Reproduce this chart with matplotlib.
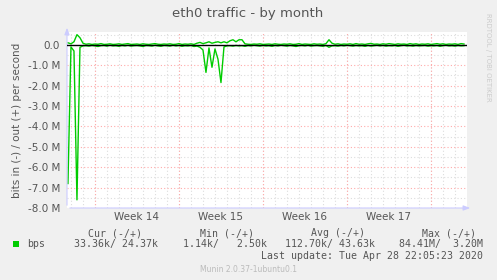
import numpy as np
import matplotlib.pyplot as plt

# days relative to Monday Mar 30 2020 (start of week 14), sampled every 6 hours
start_day = -2.25
step = 0.25

# bits in per second (M), drawn negative
in_mbps = [
    6.8, 0.1, 0.3, 7.6, 0.12, 0.05, 0.04, 0.06,
    0.03, 0.05, 0.08, 0.04, 0.03, 0.06, 0.02, 0.05,
    0.04, 0.07, 0.03, 0.05, 0.02, 0.06, 0.04, 0.03,
    0.05, 0.08, 0.03, 0.04, 0.06, 0.02, 0.05, 0.07,
    0.03, 0.04, 0.06, 0.02, 0.05, 0.03, 0.07, 0.04,
    0.05, 0.03, 0.08, 0.06, 0.12, 0.25, 1.35, 0.15,
    1.1, 0.2, 0.7, 1.85, 0.1, 0.05, 0.04, 0.06,
    0.03, 0.05, 0.04, 0.07, 0.03, 0.05, 0.02, 0.04,
    0.06, 0.03, 0.05, 0.04, 0.07, 0.03, 0.05, 0.02,
    0.04, 0.06, 0.03, 0.05, 0.08, 0.04, 0.03, 0.05,
    0.02, 0.06, 0.04, 0.03, 0.05, 0.07, 0.03, 0.12,
    0.05, 0.04, 0.06, 0.03, 0.05, 0.02, 0.04, 0.06,
    0.03, 0.05, 0.04, 0.07, 0.03, 0.06, 0.04, 0.02,
    0.05, 0.03, 0.06, 0.04, 0.05, 0.03, 0.07, 0.04,
    0.02, 0.05, 0.04, 0.06, 0.03, 0.05, 0.04, 0.03,
    0.06, 0.04, 0.05, 0.03, 0.07, 0.04, 0.02, 0.05,
    0.04, 0.06, 0.03, 0.05, 0.04,
]

# bits out per second (M)
out_mbps = [
    0.1, 0.05, 0.15, 0.5, 0.35, 0.08, 0.03, 0.05,
    0.02, 0.04, 0.03, 0.06, 0.02, 0.03, 0.05, 0.02,
    0.03, 0.05, 0.02, 0.04, 0.06, 0.02, 0.03, 0.04,
    0.02, 0.05, 0.03, 0.02, 0.04, 0.06, 0.03, 0.02,
    0.04, 0.03, 0.05, 0.02, 0.03, 0.06, 0.02, 0.04,
    0.03, 0.05, 0.02, 0.08, 0.12, 0.06, 0.1, 0.15,
    0.08, 0.12, 0.15, 0.1, 0.15, 0.1, 0.2, 0.25,
    0.15, 0.25, 0.25, 0.05, 0.03, 0.02, 0.04, 0.03,
    0.05, 0.02, 0.03, 0.04, 0.02, 0.05, 0.03, 0.02,
    0.04, 0.03, 0.05, 0.02, 0.03, 0.06, 0.02, 0.04,
    0.03, 0.02, 0.05, 0.03, 0.04, 0.02, 0.06, 0.25,
    0.08, 0.03, 0.05, 0.02, 0.04, 0.03, 0.05, 0.02,
    0.06, 0.03, 0.04, 0.02, 0.05, 0.07, 0.03, 0.04,
    0.02, 0.05, 0.03, 0.06, 0.04, 0.02, 0.05, 0.03,
    0.04, 0.02, 0.06, 0.03, 0.05, 0.02, 0.04, 0.03,
    0.05, 0.02, 0.04, 0.06, 0.03, 0.05, 0.02, 0.04,
    0.03, 0.05, 0.02, 0.06, 0.04,
]

week_labels = ['Week 14', 'Week 15', 'Week 16', 'Week 17']
week_starts = [0, 7, 14, 21, 28]
y_ticks = [0, -1, -2, -3, -4, -5, -6, -7, -8]
y_tick_labels = ['0.0'] + ['%.1f M' % v for v in y_ticks[1:]]

legend_name = 'bps'
legend_cur = '33.36k/ 24.37k'
legend_min = '1.14k/   2.50k'
legend_avg = '112.70k/ 43.63k'
legend_max = '84.41M/  3.20M'
last_update = 'Last update: Tue Apr 28 22:05:23 2020'

GREEN = '#00cc00'
TXT = '#555555'
BG = '#f0f0f0'

x = start_day + step * np.arange(len(in_mbps))

fig = plt.figure(figsize=(4.97, 2.8), dpi=100, facecolor=BG)
ax = fig.add_axes([67/497, 72/280, 400/497, 176/280])
ax.set_facecolor('white')

xmin, xmax = -2.33, 31.0
ymin, ymax = -8.0, 0.63
ax.set_xlim(xmin, xmax)
ax.set_ylim(ymin, ymax)

# grid
dot = (0, (1, 2))
for d in np.arange(-2, 31, 1):
    ax.axvline(d, color='#dddddd', lw=0.8, ls=dot, zorder=0)
for v in np.arange(-7.5, 0.6, 1.0):
    ax.axhline(v, color='#dddddd', lw=0.8, ls=dot, zorder=0)
for d in week_starts:
    ax.axvline(d, color='#ffaaaa', lw=0.8, ls=dot, zorder=1)
for v in y_ticks[1:]:
    ax.axhline(v, color='#ffaaaa', lw=0.8, ls=dot, zorder=1)

ax.plot(x, -np.array(in_mbps), color=GREEN, lw=1.0, zorder=3)
ax.plot(x, out_mbps, color=GREEN, lw=1.0, zorder=3)
ax.axhline(0, color='black', lw=1.0, zorder=4)

for s in ax.spines.values():
    s.set_visible(False)
ax.annotate('', xy=(0, 1.04), xytext=(0, 0), xycoords='axes fraction',
            arrowprops=dict(arrowstyle='-|>,head_width=0.15,head_length=0.4',
                            color='#ccccff', lw=0.8), annotation_clip=False)
ax.annotate('', xy=(1.015, 0), xytext=(0, 0), xycoords='axes fraction',
            arrowprops=dict(arrowstyle='-|>,head_width=0.15,head_length=0.4',
                            color='#ccccff', lw=0.8), annotation_clip=False)

ax.set_xticks([])
ax.set_yticks(y_ticks)
ax.set_yticklabels(y_tick_labels)
ax.tick_params(axis='y', length=0, pad=5, labelsize=7.5, labelcolor=TXT)

for i, lab in enumerate(week_labels):
    ax.text(week_starts[i] + 3.5, -0.05, lab, transform=ax.get_xaxis_transform(),
            ha='center', va='center', fontsize=7.5, color=TXT)

ax.set_ylabel('bits in (-) / out (+) per second', fontsize=7.5, color=TXT, labelpad=4)

fig.text(248/497, 1 - 13/280, 'eth0 traffic - by month', ha='center', va='center',
         fontsize=9.5, color=TXT)
fig.text(488/497, 1 - 57/280, 'RRDTOOL / TOBI OETIKER', rotation=270, ha='center',
         va='center', fontsize=5, color='#cccccc')

mono = dict(family='DejaVu Sans Mono', fontsize=7.1, color=TXT, va='center')
def fy(py):
    return 1 - py / 280

fig.text(142/497, fy(233), 'Cur (-/+)', ha='right', **mono)
fig.text(254/497, fy(233), 'Min (-/+)', ha='right', **mono)
fig.text(365/497, fy(233), 'Avg (-/+)', ha='right', **mono)
fig.text(476/497, fy(233), 'Max (-/+)', ha='right', **mono)
fig.text(27/497, fy(244), legend_name, ha='left', **mono)
fig.text(158/497, fy(244), legend_cur, ha='right', **mono)
fig.text(267/497, fy(244), legend_min, ha='right', **mono)
fig.text(375/497, fy(244), legend_avg, ha='right', **mono)
fig.text(483/497, fy(244), legend_max, ha='right', **mono)
fig.text(483/497, fy(256), last_update, ha='right', **mono)
fig.patches.append(plt.Rectangle((13/497, fy(247)), 6/497, 6/280, transform=fig.transFigure,
                                 facecolor=GREEN, edgecolor='none'))
fig.text(248/497, fy(269), 'Munin 2.0.37-1ubuntu0.1', ha='center', va='center',
         fontsize=5.5, color='#bbbbbb')

fig.savefig('out.png', dpi=100, facecolor=BG)
